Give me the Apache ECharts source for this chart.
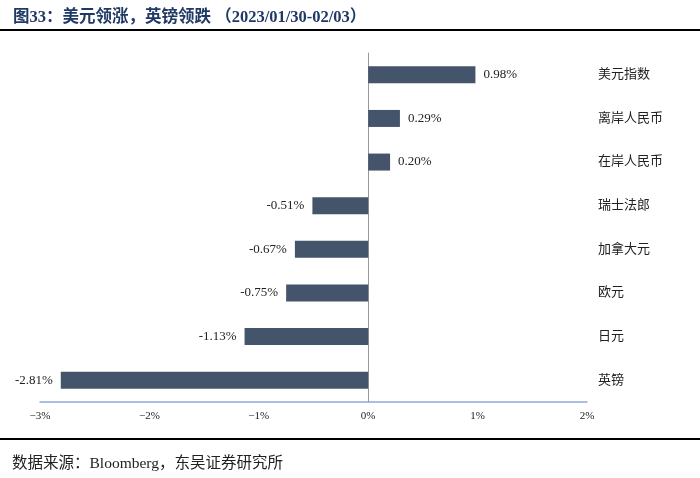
<!DOCTYPE html>
<html>
<head>
<meta charset="utf-8">
<script src="https://cdn.jsdelivr.net/npm/echarts@6/dist/echarts.min.js"></script>
<style>html,body{margin:0;padding:0;background:#fff;}#c{width:700px;height:478px;}</style>
</head>
<body>
<div id="c"></div>
<script>
var categories = ['美元指数', '离岸人民币', '在岸人民币', '瑞士法郎', '加拿大元', '欧元', '日元', '英镑'];
var values = [0.98, 0.29, 0.20, -0.51, -0.67, -0.75, -1.13, -2.81];
var xTicks = [-3, -2, -1, 0, 1, 2];

var chart = echarts.init(document.getElementById('c'));
chart.setOption({
  backgroundColor: '#fff',
  animation: false,
  title: {
    text: '图33：美元领涨，英镑领跌 （2023/01/30-02/03）',
    left: 8, top: 4,
    textStyle: { fontFamily: 'Liberation Serif, Noto Sans CJK SC', fontSize: 16.5, fontWeight: 'bold', color: '#1f3864' }
  },
  graphic: [
    { type: 'rect', shape: { x: 0, y: 29, width: 700, height: 2 }, style: { fill: '#000' } },
    { type: 'rect', shape: { x: 0, y: 438, width: 700, height: 2 }, style: { fill: '#000' } },
    { type: 'text', left: 12, top: 456, style: { text: '数据来源：Bloomberg，东吴证券研究所', font: '15.5px "Liberation Serif", "Noto Sans CJK SC"', fill: '#222' } }
  ],
  grid: { left: 40, right: 113, top: 53, bottom: 76 },
  xAxis: {
    type: 'value', min: xTicks[0], max: xTicks[xTicks.length - 1], interval: 1,
    splitLine: { show: false },
    axisTick: { show: false },
    axisLine: { show: true, onZero: false, lineStyle: { color: '#8eaadb', width: 1.5 } },
    axisLabel: {
      margin: 9, color: '#222', fontFamily: 'Liberation Serif', fontSize: 11,
      formatter: function (v) { return (v < 0 ? '−' : '') + Math.abs(v) + '%'; }
    }
  },
  yAxis: [
    {
      type: 'category', data: categories, inverse: true,
      axisLine: { show: true, onZero: true, lineStyle: { color: '#999', width: 1 } },
      axisTick: { show: false }, axisLabel: { show: false }, splitLine: { show: false }
    },
    {
      type: 'category', data: categories, inverse: true, position: 'right',
      axisLine: { show: false }, axisTick: { show: false }, splitLine: { show: false },
      axisLabel: { show: true, margin: 11, align: 'left', color: '#222', fontSize: 13, fontFamily: 'Liberation Serif, Noto Sans CJK SC' }
    }
  ],
  series: [{
    type: 'bar', yAxisIndex: 0, barWidth: 17,
    data: values.map(function (v) {
      return { value: v, label: { position: v < 0 ? 'left' : 'right' } };
    }),
    itemStyle: { color: '#44546a' },
    label: {
      show: true, color: '#222', fontFamily: 'Liberation Serif', fontSize: 13, distance: 8,
      formatter: function (p) { return p.value.toFixed(2) + '%'; }
    }
  }]
});
</script>
</body>
</html>
